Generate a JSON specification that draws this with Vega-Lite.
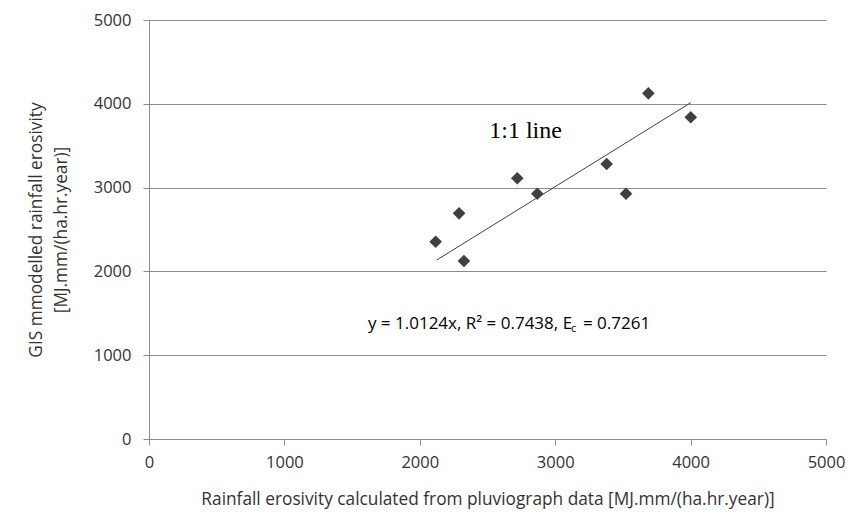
{
  "$schema": "https://vega.github.io/schema/vega-lite/v6.json",
  "width": 677,
  "height": 419,
  "autosize": {"type": "none"},
  "padding": {"left": 149, "top": 20, "right": 26, "bottom": 75},
  "background": "white",
  "config": {
    "view": {"stroke": null},
    "font": "Open Sans",
    "axis": {
      "labelFont": "Open Sans",
      "labelFontSize": 16.5,
      "labelColor": "#333333",
      "labelFlush": false,
      "titleFont": "Open Sans",
      "titleFontSize": 17.3,
      "titleFontWeight": "normal",
      "titleColor": "#333333",
      "domainColor": "#8c8c8c",
      "tickColor": "#8c8c8c",
      "gridColor": "#8c8c8c",
      "tickSize": 6,
      "format": "d"
    }
  },
  "datasets": {
    "points": [
      {"pluvio": 2117, "gis": 2354},
      {"pluvio": 2290, "gis": 2693},
      {"pluvio": 2326, "gis": 2124},
      {"pluvio": 2720, "gis": 3111},
      {"pluvio": 2868, "gis": 2927},
      {"pluvio": 3380, "gis": 3282},
      {"pluvio": 3523, "gis": 2927},
      {"pluvio": 3688, "gis": 4125},
      {"pluvio": 4001, "gis": 3839}
    ],
    "fit": [
      {"pluvio": 2125, "gis": 2136},
      {"pluvio": 4001, "gis": 4013}
    ],
    "lineLabel": [
      {"pluvio": 2781, "gis": 3588, "label": "1:1 line"}
    ],
    "eqMain": [
      {"pluvio": 1617, "gis": 1313, "label": "y = 1.0124x, R² = 0.7438, E"}
    ],
    "eqSub": [
      {"pluvio": 3117, "gis": 1277, "label": "c"}
    ],
    "eqEnd": [
      {"pluvio": 3205, "gis": 1313, "label": "= 0.7261"}
    ]
  },
  "layer": [
    {
      "data": {"name": "points"},
      "mark": {"type": "point", "shape": "diamond", "filled": true, "size": 160, "color": "#404040", "opacity": 1},
      "encoding": {
        "x": {
          "field": "pluvio", "type": "quantitative",
          "scale": {"domain": [0, 5000], "nice": false},
          "axis": {
            "values": [0, 1000, 2000, 3000, 4000, 5000],
            "format": "d",
            "grid": false,
            "labelFlush": false,
            "labelPadding": 9,
            "titlePadding": 20,
            "title": "Rainfall erosivity calculated from pluviograph data [MJ.mm/(ha.hr.year)]"
          }
        },
        "y": {
          "field": "gis", "type": "quantitative",
          "scale": {"domain": [0, 5000], "nice": false},
          "axis": {
            "values": [0, 1000, 2000, 3000, 4000, 5000],
            "format": "d",
            "grid": true,
            "labelFlush": false,
            "labelPadding": 12,
            "titlePadding": 23,
            "titleLineHeight": 25,
            "title": ["GIS mmodelled rainfall erosivity", "[MJ.mm/(ha.hr.year)]"]
          }
        }
      }
    },
    {
      "data": {"name": "fit"},
      "mark": {"type": "line", "color": "#404040", "strokeWidth": 1},
      "encoding": {
        "x": {"field": "pluvio", "type": "quantitative"},
        "y": {"field": "gis", "type": "quantitative"}
      }
    },
    {
      "data": {"name": "lineLabel"},
      "mark": {"type": "text", "font": "Liberation Serif", "fontSize": 24, "color": "#000000", "align": "center", "baseline": "alphabetic"},
      "encoding": {
        "x": {"field": "pluvio", "type": "quantitative"},
        "y": {"field": "gis", "type": "quantitative"},
        "text": {"field": "label"}
      }
    },
    {
      "data": {"name": "eqMain"},
      "mark": {"type": "text", "font": "Open Sans", "fontSize": 17, "color": "#000000", "align": "left", "baseline": "alphabetic"},
      "encoding": {
        "x": {"field": "pluvio", "type": "quantitative"},
        "y": {"field": "gis", "type": "quantitative"},
        "text": {"field": "label"}
      }
    },
    {
      "data": {"name": "eqSub"},
      "mark": {"type": "text", "font": "Open Sans", "fontSize": 11, "color": "#000000", "align": "left", "baseline": "alphabetic"},
      "encoding": {
        "x": {"field": "pluvio", "type": "quantitative"},
        "y": {"field": "gis", "type": "quantitative"},
        "text": {"field": "label"}
      }
    },
    {
      "data": {"name": "eqEnd"},
      "mark": {"type": "text", "font": "Open Sans", "fontSize": 17, "color": "#000000", "align": "left", "baseline": "alphabetic"},
      "encoding": {
        "x": {"field": "pluvio", "type": "quantitative"},
        "y": {"field": "gis", "type": "quantitative"},
        "text": {"field": "label"}
      }
    }
  ]
}
